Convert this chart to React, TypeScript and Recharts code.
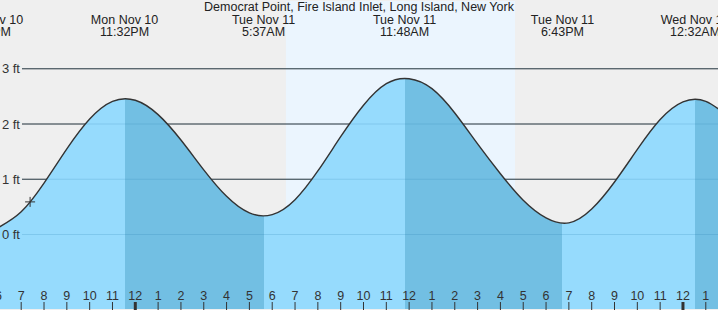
import React from 'react';
import {
  ComposedChart, Area, Line, XAxis, YAxis,
  ReferenceArea, ReferenceLine, ReferenceDot
} from 'recharts';

// tide curve, one point per hour: hours since Mon 00:00, height in ft
const tideHours = [
  18, 19, 20, 21, 22, 23, 24, 25, 26, 27, 28,
  29, 30, 31, 32, 33, 34, 35, 36, 37, 38, 39,
  40, 41, 42, 43, 44, 45, 46, 47, 48, 49, 50
];
const tideFeet = [
  0.125, 0.41, 0.93, 1.55, 2.09, 2.41, 2.43, 2.17, 1.71, 1.17, 0.69,
  0.39, 0.36, 0.63, 1.15, 1.77, 2.34, 2.73, 2.82, 2.64, 2.2, 1.64,
  1.1, 0.62, 0.3, 0.21, 0.46, 0.95, 1.54, 2.08, 2.4, 2.41, 2.13
];

// high / low labels along the top
const extremeHours = [17.61, 23.53, 29.62, 35.8, 42.72, 48.53];
const extremeDays = ['Mon Nov 10', 'Mon Nov 10', 'Tue Nov 11', 'Tue Nov 11', 'Tue Nov 11', 'Wed Nov 12'];
const extremeTimes = ['5:37PM', '11:32PM', '5:37AM', '11:48AM', '6:43PM', '12:32AM'];

// falling tide (high -> low) gets the darker fill
const ebbStart = [23.53, 35.8, 48.53];
const ebbEnd = [29.62, 42.72, 50];

const sunrise = 30.6;
const sunset = 40.64;
const nowHour = 19.39;
const nowFeet = 0.59;

const footLines = [0, 1, 2, 3];
const hourTicks = [
  18, 19, 20, 21, 22, 23, 24, 25, 26, 27, 28, 29, 30, 31, 32, 33,
  34, 35, 36, 37, 38, 39, 40, 41, 42, 43, 44, 45, 46, 47, 48, 49
];

const X_MIN = 18.071;
const X_MAX = 49.535;
const Y_MIN = -1.349;
const FONT = '"Liberation Sans", Arial, sans-serif';
const LIGHT = '#96dbfd';
const DARK = '#72bfe3';

const chartData = tideHours.map((t, i) => ({ t, ft: tideFeet[i] }));

// horizontal gradient with hard stops: light on the rising tide, dark on the falling one
const span = tideHours[tideHours.length - 1] - tideHours[0];
const ebbStops = ebbStart.flatMap((s, k) => {
  const a = Math.max(0, (s - tideHours[0]) / span);
  const b = Math.min(1, (ebbEnd[k] - tideHours[0]) / span);
  return [
    <stop key={'a' + k} offset={a} stopColor={LIGHT} />,
    <stop key={'b' + k} offset={a} stopColor={DARK} />,
    <stop key={'c' + k} offset={b} stopColor={DARK} />,
    <stop key={'d' + k} offset={b} stopColor={LIGHT} />,
  ];
});

const HourTick = (props: any) => {
  const { x, payload } = props;
  const h = payload.value % 12 === 0 ? 12 : payload.value % 12;
  const midnight = payload.value % 24 === 0;
  return (
    <g>
      <text x={x} y={300} textAnchor="middle" fontSize={12.5} fontFamily={FONT} fill="#333">{h}</text>
      <line x1={x} x2={x} y1={302} y2={310} stroke="#333" strokeWidth={midnight ? 3 : 1} />
    </g>
  );
};

const TideTick = (props: any) => {
  const { x, payload } = props;
  const i = extremeHours.indexOf(payload.value);
  if (i < 0) return null;
  return (
    <g>
      <text x={x} y={23.5} textAnchor="middle" fontSize={12.5} fontFamily={FONT} fill="#222">{extremeDays[i]}</text>
      <text x={x} y={36} textAnchor="middle" fontSize={12.5} fontFamily={FONT} fill="#222">{extremeTimes[i]}</text>
    </g>
  );
};

const PlusMark = (props: any) => {
  const { cx, cy } = props;
  return (
    <g stroke="#333" strokeWidth={1}>
      <line x1={cx - 5} x2={cx + 5} y1={cy} y2={cy} />
      <line x1={cx} x2={cx} y1={cy - 5} y2={cy + 5} />
    </g>
  );
};

export default function App() {
  return (
    <div style={{ position: 'absolute', left: 0, top: 0, width: 718, height: 310, background: '#efefef', overflow: 'hidden' }}>
      <div style={{
        position: 'absolute', left: 0, top: 0, width: 718, textAlign: 'center', lineHeight: '14px',
        fontFamily: FONT, fontSize: 12.5, color: '#222', zIndex: 2
      }}>
        Democrat Point, Fire Island Inlet, Long Island, New York
      </div>
      <ComposedChart width={718} height={310} data={chartData} margin={{ top: 0, right: 0, bottom: 0, left: 0 }}>
        <defs>
          <linearGradient id="tideFill" x1="0" y1="0" x2="1" y2="0">
            <stop offset={0} stopColor={LIGHT} />
            {ebbStops}
          </linearGradient>
        </defs>
        <XAxis xAxisId="main" dataKey="t" type="number" domain={[X_MIN, X_MAX]} allowDataOverflow
          height={1} axisLine={false} tickLine={false} ticks={hourTicks} interval={0} tick={HourTick} />
        <XAxis xAxisId="top" orientation="top" dataKey="t" type="number" domain={[X_MIN, X_MAX]} allowDataOverflow
          height={1} axisLine={false} tickLine={false} ticks={extremeHours} interval={0} tick={TideTick} />
        <YAxis hide domain={[Y_MIN, 4.227]} allowDataOverflow />

        <ReferenceArea xAxisId="main" x1={sunrise} x2={sunset} fill="#ebf5fe" fillOpacity={1} stroke="none" zIndex={-200} />
        {footLines.map(v => (
          <ReferenceLine key={'d' + v} xAxisId="main" segment={[{ x: 19.035, y: v }, { x: X_MAX, y: v }]}
            stroke="#333" strokeWidth={1} zIndex={-150} />
        ))}

        <Area xAxisId="main" type="natural" dataKey="ft" baseValue={Y_MIN} stroke="none" fill="url(#tideFill)" fillOpacity={1}
          isAnimationActive={false} zIndex={100} />

        {footLines.map(v => (
          <ReferenceLine key={'f' + v} xAxisId="main" segment={[{ x: 19.035, y: v }, { x: X_MAX, y: v }]}
            stroke="#2a7fb0" strokeOpacity={0.2} strokeWidth={1} zIndex={150}
            label={{ value: `${v} ft`, position: 'left', offset: 2, fill: '#333', fontSize: 13, fontFamily: FONT }} />
        ))}

        <Line xAxisId="main" type="natural" dataKey="ft" stroke="#333" strokeWidth={1.4} dot={false}
          isAnimationActive={false} zIndex={400} />
        <ReferenceDot xAxisId="main" x={nowHour} y={nowFeet} r={0} shape={PlusMark} zIndex={500} />
      </ComposedChart>
    </div>
  );
}
